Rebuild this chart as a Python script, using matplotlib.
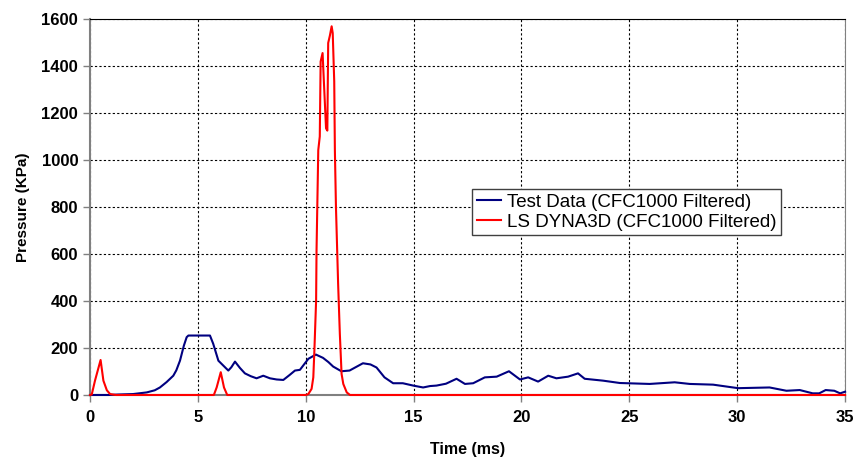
import matplotlib.pyplot as plt

plt.rcParams['font.family'] = ['Liberation Sans', 'DejaVu Sans']

# Test Data (CFC1000 Filtered)
t_test = [0, 0.85, 1.3, 2.0, 2.63, 3.0, 3.24, 3.55, 3.86, 4.0, 4.17, 4.35, 4.48, 4.56, 5.0, 5.56,
          5.71, 5.95, 6.18, 6.41, 6.55, 6.72, 6.95, 7.18, 7.45, 7.72, 8.03, 8.34, 8.65, 8.96,
          9.25, 9.5, 9.73, 10.12, 10.47, 10.8, 11.05, 11.27, 11.65, 12.03, 12.35, 12.65,
          13.0, 13.28, 13.65, 14.05, 14.5, 14.98, 15.44, 15.76, 16.06, 16.5, 16.99, 17.38,
          17.76, 18.3, 18.85, 19.42, 19.93, 20.31, 20.77, 21.24, 21.62, 22.16, 22.62,
          22.93, 23.78, 24.56, 25.94, 27.1, 27.8, 28.88, 30.04, 31.5, 32.28, 32.9, 33.5,
          33.8, 34.1, 34.5, 34.77, 35]
p_test = [0, 0, 2, 4, 11, 20, 32, 55, 82, 105, 146, 210, 246, 253, 253, 253,
          218, 146, 125, 104, 118, 142, 115, 92, 80, 71, 82, 71, 66, 64,
          85, 104, 107, 154, 172, 158, 140, 121, 101, 104, 120, 135,
          130, 117, 75, 50, 50, 40, 32, 38, 40, 48, 69, 47,
          50, 75, 78, 101, 66, 75, 57, 82, 71, 78, 92,
          69, 61, 51, 47, 54, 47, 44, 29, 32, 18, 21, 7,
          7, 21, 18, 7, 14]

# LS DYNA3D (CFC1000 Filtered)
t_ls = [0, 0.08, 0.23, 0.39, 0.49, 0.62, 0.78, 0.93, 1.2, 5.74, 5.87, 6.06, 6.21,
        6.36, 10.0, 10.12, 10.27, 10.35, 10.4, 10.48, 10.5, 10.58, 10.65, 10.69,
        10.78, 10.84, 10.94, 11.0, 11.04, 11.12, 11.2, 11.25, 11.32, 11.35, 11.4,
        11.5, 11.58, 11.66, 11.74, 11.9, 12.05, 35]
p_ls = [0, 2, 61, 115, 149, 61, 20, 4, 0, 0, 32, 97, 32,
        0, 0, 4, 26, 75, 189, 402, 616, 1042, 1100, 1419,
        1455, 1334, 1135, 1125, 1498, 1530, 1569, 1540, 1334, 1042, 800,
        474, 260, 90, 47, 11, 0, 0]

fig = plt.figure(figsize=(8.59, 4.70), dpi=100)
ax = fig.add_axes([0.1048, 0.1596, 0.879, 0.800])

ax.plot(t_test, p_test, color='#000080', lw=1.5, zorder=3, clip_on=False,
        label='Test Data (CFC1000 Filtered)')
ax.plot(t_ls, p_ls, color='#FF0000', lw=1.5, zorder=4, clip_on=False,
        label='LS DYNA3D (CFC1000 Filtered)')

ax.set_xlim(0, 35)
ax.set_ylim(0, 1600)
ax.set_xticks(range(0, 36, 5))
ax.set_yticks(range(0, 1601, 200))
ax.grid(True, color='black', linestyle=(0, (2, 2)), linewidth=0.8)

for s in ['left', 'bottom', 'right']:
    ax.spines[s].set_color('#808080')
ax.spines['top'].set_color('black')
ax.spines['left'].set_linewidth(1.5)
ax.spines['bottom'].set_linewidth(1.5)
ax.tick_params(direction='out', length=5, color='#808080', width=1)
for lab in ax.get_xticklabels() + ax.get_yticklabels():
    lab.set_fontweight('bold')
    lab.set_fontsize(12)
ax.tick_params(axis='x', pad=6)

ax.set_xlabel('Time (ms)', fontsize=11.5, fontweight='bold', labelpad=12)
ax.set_ylabel('Pressure (KPa)', fontsize=11, fontweight='bold', labelpad=8)

leg = ax.legend(loc='upper left', bbox_to_anchor=(0.506, 0.548), borderaxespad=0,
                fancybox=False, fontsize=13.5, handlelength=1.3, handletextpad=0.3,
                borderpad=0.25, labelspacing=0.15, framealpha=1)
leg.get_frame().set_edgecolor('#404040')
leg.get_frame().set_linewidth(1)

fig.savefig('out.png', dpi=100)
